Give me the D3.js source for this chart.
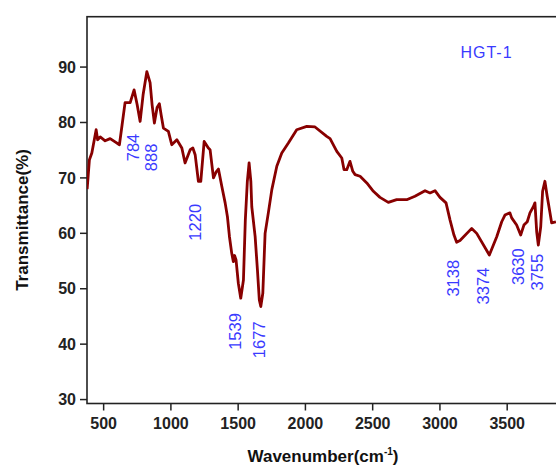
<!DOCTYPE html>
<html>
<head>
<meta charset="utf-8">
<script src="https://cdn.jsdelivr.net/npm/d3@7"></script>
<style>
  html, body { margin: 0; padding: 0; background: #fff; }
  svg { display: block; }
  text { font-family: "Liberation Sans", Arial, sans-serif; }
</style>
</head>
<body>
<svg id="chart" width="556" height="468"></svg>
<script>
// ---- data ----
const wavenumber = [381, 398, 416, 448, 459, 478, 515, 552, 589, 621, 641, 663, 701, 730, 753, 775, 797, 825, 849, 864,
  881, 901, 918, 931, 948, 985, 1010, 1048, 1085, 1109, 1147, 1167, 1184, 1208, 1226, 1251, 1282, 1295, 1320, 1340,
  1357, 1382, 1407, 1424, 1439, 1456, 1468, 1477, 1488, 1505, 1523, 1543, 1557, 1572, 1585, 1598, 1605, 1630, 1647, 1661,
  1672, 1687, 1704, 1728, 1754, 1791, 1828, 1877, 1939, 2014, 2075, 2162, 2187, 2237, 2274, 2291, 2311, 2335, 2356, 2373,
  2410, 2460, 2509, 2558, 2620, 2682, 2761, 2818, 2893, 2930, 2967, 3004, 3049, 3079, 3108, 3128, 3153, 3240, 3277, 3371,
  3426, 3463, 3487, 3524, 3537, 3574, 3604, 3628, 3653, 3673, 3698, 3710, 3723, 3735, 3753, 3767, 3784, 3801, 3822, 3834, 3866];
const transmittance = [67.9, 73.2, 74.4, 78.6, 76.8, 77.3, 76.6, 77.0, 76.4, 75.9, 79.5, 83.5, 83.5, 85.8, 83.1, 80.1, 84.9, 89.1, 87.1, 83.1,
  79.8, 82.6, 83.3, 81.3, 78.9, 78.3, 75.9, 76.8, 75.3, 72.6, 75.0, 75.3, 74.1, 69.3, 69.3, 76.5, 75.3, 75.0, 69.9, 71.0,
  71.5, 68.4, 65.4, 62.9, 59.3, 56.3, 54.8, 55.9, 55.1, 50.9, 48.2, 51.5, 62.3, 69.3, 72.6, 69.3, 64.7, 59.3, 53.3, 47.9,
  46.7, 49.1, 59.9, 63.6, 67.8, 72.0, 74.4, 76.2, 78.6, 79.2, 79.1, 77.4, 77.0, 74.7, 73.5, 71.4, 71.4, 72.9, 71.1, 70.5,
  70.2, 69.0, 67.5, 66.4, 65.5, 66.0, 66.0, 66.6, 67.6, 67.2, 67.6, 66.4, 65.4, 62.3, 59.6, 58.3, 58.6, 60.8, 59.9, 56.0,
  59.3, 62.0, 63.2, 63.6, 62.7, 61.4, 59.6, 61.4, 62.0, 63.6, 64.7, 65.4, 60.2, 57.8, 61.1, 67.5, 69.3, 66.6, 63.6, 61.8, 62.0];

const xTicks = [500, 1000, 1500, 2000, 2500, 3000, 3500];
const yTicks = [30, 40, 50, 60, 70, 80, 90];

const peakLabels = ["784", "888", "1220", "1539", "1677", "3138", "3374", "3630", "3755"];
const peakLabelWn = [767, 901, 1224, 1525, 1700, 3149, 3372, 3625, 3773];
const peakLabelT = [75.4, 73.6, 61.9, 42.2, 40.7, 51.8, 50.4, 53.9, 52.9];

const sampleName = "HGT-1";
const xTitle = "Wavenumber(cm";
const yTitle = "Transmittance(%)";

// ---- drawing ----
const svg = d3.select("#chart");
const mLeft = 87, mRight = 560.5, mTop = 16.7, mBottom = 403.5;

const x = d3.scaleLinear().domain([380, 3900]).range([mLeft, mRight]);
const y = d3.scaleLinear().domain([29.2, 99]).range([mBottom, mTop]);

const curveColor = "#880000";
const labelColor = "#3a3aff";
const axisColor = "#222";

// axes
const xAxis = d3.axisBottom(x).tickValues(xTicks).tickSize(7).tickPadding(4).tickFormat(d3.format("d"));
const yAxis = d3.axisLeft(y).tickValues(yTicks).tickSize(7).tickPadding(4).tickFormat(d3.format("d"));

const gx = svg.append("g").attr("transform", `translate(0,${mBottom})`).call(xAxis);
const gy = svg.append("g").attr("transform", `translate(${mLeft},0)`).call(yAxis);
[gx, gy].forEach(g => {
  g.select(".domain").remove();
  g.selectAll(".tick line").attr("stroke", axisColor).attr("stroke-width", 1.5);
  g.selectAll(".tick text").attr("fill", "#222").style("font-size", "16px").style("font-weight", "bold")
    .style("font-family", '"Liberation Sans", Arial, sans-serif');
});
gx.selectAll(".tick text").attr("dy", "0.9em");
gy.selectAll(".tick text").attr("dy", "0.35em");

// frame
svg.append("rect")
  .attr("x", mLeft).attr("y", mTop)
  .attr("width", mRight - mLeft).attr("height", mBottom - mTop)
  .attr("fill", "none").attr("stroke", axisColor).attr("stroke-width", 1.6);

// clip
svg.append("clipPath").attr("id", "clip").append("rect")
  .attr("x", mLeft).attr("y", mTop).attr("width", mRight - mLeft).attr("height", mBottom - mTop);

const pts = wavenumber.map((w, i) => [w, transmittance[i]]);
const line = d3.line().x(d => x(d[0])).y(d => y(d[1]));

svg.append("path")
  .datum(pts)
  .attr("clip-path", "url(#clip)")
  .attr("d", line)
  .attr("fill", "none")
  .attr("stroke", curveColor)
  .attr("stroke-width", 2.8)
  .attr("stroke-linejoin", "round");

// peak labels
svg.append("g").selectAll("text")
  .data(peakLabels)
  .join("text")
  .attr("transform", (d, i) => `translate(${x(peakLabelWn[i])},${y(peakLabelT[i])}) rotate(-90)`)
  .attr("text-anchor", "middle")
  .attr("fill", labelColor)
  .style("font-size", "16.5px")
  .text(d => d);

// sample name
svg.append("text")
  .attr("x", x(3350)).attr("y", y(91.6))
  .attr("text-anchor", "middle")
  .attr("fill", labelColor)
  .style("font-size", "16px")
  .style("letter-spacing", "1px")
  .text(sampleName);

// axis titles
const xt = svg.append("text")
  .attr("x", 323).attr("y", 462)
  .attr("text-anchor", "middle")
  .attr("fill", "#111")
  .style("font-size", "17px").style("font-weight", "bold");
xt.append("tspan").text(xTitle);
xt.append("tspan").attr("dy", -7).style("font-size", "10px").text("-1");
xt.append("tspan").attr("dy", 7).text(")");

svg.append("text")
  .attr("transform", "translate(28,220) rotate(-90)")
  .attr("text-anchor", "middle")
  .attr("fill", "#111")
  .style("font-size", "17px").style("font-weight", "bold")
  .text(yTitle);
</script>
</body>
</html>
